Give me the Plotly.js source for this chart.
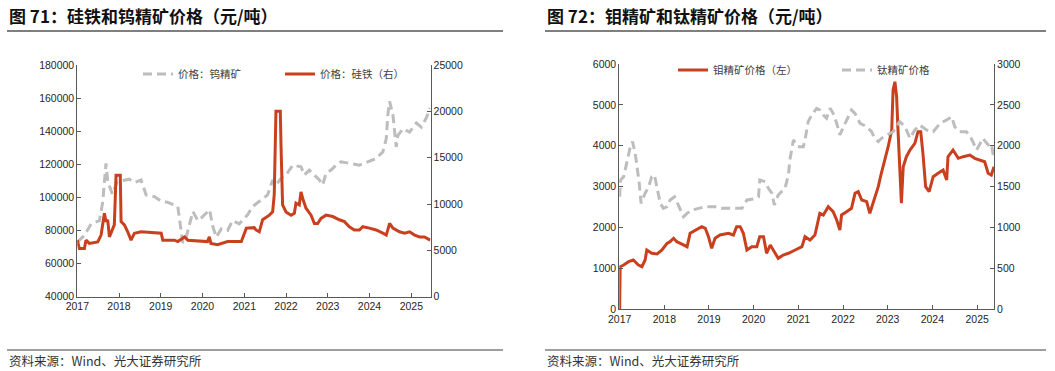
<!DOCTYPE html>
<html><head><meta charset="utf-8">
<script src="https://cdn.plot.ly/plotly-3.0.1.min.js"></script>
<style>html,body{margin:0;padding:0;background:#fff;}#chart{width:1055px;height:371px;}</style>
</head><body><div id="chart"></div>
<script>
// ---- Chart 71: 钨精矿 (left axis) & 硅铁 (right axis) ----
const tungstenDates = ['2017-01-01','2017-03-04','2017-05-01','2017-07-13','2017-08-11','2017-08-26','2017-09-09','2017-09-24','2017-11-03','2017-12-17',
'2018-01-30','2018-04-01','2018-05-16','2018-07-13','2018-08-26','2018-11-07','2018-12-28','2019-03-04','2019-05-30','2019-06-29',
'2019-07-13','2019-08-08','2019-10-09','2019-11-21','2019-12-20','2020-03-04','2020-03-29','2020-05-01','2020-06-14','2020-08-08',
'2020-09-20','2020-11-18','2021-01-30','2021-03-15','2021-05-12','2021-07-24','2021-09-06','2021-10-05','2021-11-18','2022-01-01',
'2022-03-01','2022-05-12','2022-06-10','2022-07-24','2022-09-06','2022-10-20','2022-11-18','2022-12-17','2023-01-30','2023-03-15',
'2023-04-27','2023-07-09','2023-10-05','2023-12-17','2024-02-28','2024-04-27','2024-05-27','2024-06-10','2024-06-25','2024-07-24',
'2024-08-08','2024-08-22','2024-09-06','2024-10-20','2024-12-17','2025-02-14','2025-03-29','2025-05-12','2025-06-15'];
const tungstenPrices = [73000,77000,84000,86000,97000,111000,120500,110000,102000,109500,
110000,111000,109000,110500,101500,100500,98000,97000,94500,81000,
72500,75000,91500,86000,87500,92500,83000,76000,81000,80000,
86000,84000,89500,94500,97500,101500,110500,107500,111500,113500,
119500,118500,113500,116500,113500,110500,107500,114500,116500,119500,
121500,120500,119500,121500,123500,127500,135500,150000,158000,150000,
139500,130500,137500,141500,139500,145000,142500,148000,154000];

const siliconDates = ['2017-01-01','2017-01-19','2017-03-04','2017-03-18','2017-04-16','2017-06-29','2017-07-28','2017-08-11','2017-08-26','2017-09-09',
'2017-09-24','2017-10-09','2017-11-07','2017-11-21','2017-12-06','2018-01-12','2018-01-19','2018-02-17','2018-03-18','2018-04-16',
'2018-05-16','2018-07-13','2019-01-05','2019-01-19','2019-05-01','2019-05-30','2019-07-28','2019-08-26','2020-02-14','2020-03-01',
'2020-03-15','2020-05-12','2020-08-08','2020-12-06','2021-01-19','2021-03-29','2021-04-13','2021-05-12','2021-06-10','2021-08-08',
'2021-09-06','2021-09-20','2021-10-05','2021-11-12','2021-11-18','2021-12-02','2022-01-01','2022-02-14','2022-03-15','2022-03-29',
'2022-04-27','2022-05-12','2022-05-27','2022-06-25','2022-08-08','2022-09-06','2022-10-05','2022-11-03','2022-12-17','2023-02-14',
'2023-04-13','2023-05-27','2023-07-09','2023-08-22','2023-10-05','2023-11-03','2024-01-01','2024-02-28','2024-04-27','2024-05-27',
'2024-06-25','2024-07-24','2024-09-20','2024-11-03','2024-12-17','2025-01-30','2025-03-15','2025-04-27','2025-06-15'];
const siliconPrices = [6100,5200,5200,6100,5750,5900,6650,7900,9000,8100,
8300,6450,7400,7750,13100,13100,8100,7750,7000,6100,
6850,7000,6850,6100,6100,5950,6450,6100,5950,6450,
5750,5600,5950,5950,7400,7450,7200,7000,8300,8800,
9150,11000,20000,20000,16400,9900,9150,8800,9000,10100,
9900,11300,10600,9550,8800,7900,7900,8450,8800,8650,
8300,8100,7550,7200,7200,7550,7400,7200,6850,6650,
7900,7400,7000,6850,7000,6650,6450,6450,6100];

// ---- Chart 72: 钼精矿 (left axis) & 钛精矿 (right axis) ----
const molyDates = ['2017-01-01','2017-01-05','2017-02-03','2017-03-15','2017-04-23','2017-06-03','2017-07-02','2017-07-28','2017-08-11','2017-09-20',
'2017-11-03','2017-12-13','2018-01-23','2018-02-17','2018-03-18','2018-04-13','2018-05-12','2018-06-07','2018-07-06','2018-07-31',
'2018-08-26','2018-09-24','2018-11-03','2018-12-02','2018-12-28','2019-01-23','2019-02-20','2019-04-01','2019-06-10','2019-07-20',
'2019-08-15','2019-09-13','2019-10-09','2019-11-07','2019-12-17','2020-01-27','2020-02-20','2020-03-22','2020-04-16','2020-05-16',
'2020-06-10','2020-07-20','2020-08-30','2020-10-12','2020-12-06','2021-01-30','2021-02-24','2021-04-06','2021-05-16','2021-05-30',
'2021-06-25','2021-07-24','2021-09-02','2021-10-12','2021-11-10','2021-12-06','2021-12-20','2022-01-30','2022-03-11','2022-04-09',
'2022-05-05','2022-06-03','2022-07-13','2022-08-08','2022-09-06','2022-10-16','2022-11-10','2022-12-09','2023-01-05','2023-02-03',
'2023-02-14','2023-03-01','2023-03-15','2023-03-25','2023-04-09','2023-04-23','2023-05-08','2023-06-03','2023-07-02','2023-08-11',
'2023-09-06','2023-09-28','2023-10-16','2023-11-07','2023-12-06','2024-01-08','2024-02-17','2024-03-29','2024-04-27','2024-05-08',
'2024-06-18','2024-07-31','2024-09-09','2024-11-03','2024-12-13','2025-01-23','2025-03-04','2025-04-01','2025-04-27','2025-05-19'];
const molyPrices = [0,1040,1084,1164,1206,1084,1042,1206,1450,1370,
1353,1450,1614,1654,1737,1654,1614,1573,1531,1859,
1898,1940,2020,1981,1776,1492,1737,1817,1859,1817,
2020,2020,1859,1450,1531,1531,1776,1776,1370,1573,
1450,1247,1328,1370,1450,1531,1776,1695,1817,1981,
2348,2307,2510,2388,2184,1940,2307,2388,2470,2837,
2877,2673,2632,2348,2632,2999,3327,3652,3977,4386,
5364,5567,5200,4467,3407,2593,3488,3733,3896,4060,
4344,4344,3816,2999,2877,3243,3327,3407,3163,3733,
3896,3693,3733,3774,3693,3652,3610,3327,3285,3488];

const titaniumDates = ['2017-01-01','2017-01-08','2017-02-03','2017-03-04','2017-03-29','2017-04-16','2017-05-08','2017-05-23','2017-06-10','2017-06-25',
'2017-07-28','2017-08-26','2017-09-20','2017-10-12','2017-11-03','2017-11-29','2017-12-24','2018-01-23','2018-02-17','2018-03-25',
'2018-04-13','2018-05-12','2018-06-07','2018-07-06','2018-08-15','2018-12-02','2019-02-20','2019-04-16','2019-07-06','2019-09-28',
'2019-11-07','2019-12-17','2020-02-10','2020-02-20','2020-04-05','2020-05-01','2020-05-30','2020-06-18','2020-07-20','2020-09-13',
'2020-10-12','2020-10-23','2020-11-21','2020-12-28','2021-02-10','2021-02-24','2021-03-22','2021-04-20','2021-05-30','2021-06-25',
'2021-07-24','2021-08-19','2021-09-17','2021-10-12','2021-11-10','2021-12-06','2022-01-05','2022-01-30','2022-03-11','2022-04-09',
'2022-05-20','2022-07-13','2022-08-22','2022-09-17','2022-10-16','2022-11-10','2022-12-24','2023-02-14','2023-04-09','2023-05-08',
'2023-06-03','2023-07-02','2023-08-11','2023-09-20','2023-11-14','2024-01-08','2024-03-04','2024-04-27','2024-06-07','2024-07-02',
'2024-08-11','2024-10-05','2024-11-14','2024-12-28','2025-02-17','2025-04-01','2025-04-27','2025-05-19'];
const titaniumPrices = [1377,1581,1622,1826,1989,2050,1908,1744,1541,1296,
1419,1499,1622,1643,1499,1296,1235,1255,1337,1377,
1316,1214,1133,1174,1214,1255,1255,1235,1235,1235,
1337,1345,1377,1581,1561,1480,1419,1276,1398,1480,
1643,1826,2071,1989,1989,2071,2295,2376,2458,2437,
2376,2336,2458,2397,2275,2132,2233,2315,2437,2397,
2275,2233,2172,2091,2050,2091,2132,2172,2295,2254,
2193,2091,2193,2254,2193,2172,2275,2315,2356,2233,
2172,2172,2091,1948,2091,2010,2030,1826];

const yearTicks = ['2017-01-01','2018-01-01','2019-01-01','2020-01-01','2021-01-01','2022-01-01','2023-01-01','2024-01-01','2025-01-01'];
const yearLabels = ['2017','2018','2019','2020','2021','2022','2023','2024','2025'];

const W = 1055, H = 371;
const px = v => v / W;
const py = v => 1 - v / H;

const RED = '#C9401F', GRAY = '#BDBDBD', AX = '#595959';
const numFont = {family: 'Liberation Sans, Arial, sans-serif', size: 10.5, color: '#262626'};
const cjk = 'Noto Sans CJK SC, sans-serif';

function xAx(domain, range, anchor) {
  return {type: 'date', domain, range, anchor, tickvals: yearTicks, ticktext: yearLabels,
    ticks: 'inside', ticklen: 4, tickcolor: AX, showline: true, linecolor: AX, linewidth: 1,
    showgrid: false, zeroline: false, tickfont: numFont, fixedrange: true};
}
function yAx(domain, range, dtick, anchor, extra) {
  return Object.assign({domain, range, dtick, anchor, tickformat: 'd',
    ticks: 'inside', ticklen: 4, tickcolor: AX, showline: true, linecolor: AX, linewidth: 1,
    showgrid: false, zeroline: false, tickfont: numFont, fixedrange: true}, extra || {});
}

const traces = [
  {x: tungstenDates, y: tungstenPrices, xaxis: 'x', yaxis: 'y', name: '价格：钨精矿', legend: 'legend', showlegend: true,
   mode: 'lines', line: {color: GRAY, width: 3, dash: '9px,5px'}},
  {x: siliconDates, y: siliconPrices, xaxis: 'x', yaxis: 'y2', name: '价格：硅铁（右）', legend: 'legend2', showlegend: true,
   mode: 'lines', line: {color: RED, width: 3}},
  {x: titaniumDates, y: titaniumPrices, xaxis: 'x3', yaxis: 'y4', name: '钛精矿价格', legend: 'legend4', showlegend: true,
   mode: 'lines', line: {color: GRAY, width: 3, dash: '9px,5px'}},
  {x: molyDates, y: molyPrices, xaxis: 'x3', yaxis: 'y3', name: '钼精矿价格（左）', legend: 'legend3', showlegend: true,
   mode: 'lines', line: {color: RED, width: 3}}
];

const legFont = {family: cjk, size: 10.5, color: '#404040'};
function leg(x, y) {
  return {x: px(x), y: py(y), xanchor: 'left', yanchor: 'middle', orientation: 'h', visible: true,
    bgcolor: 'rgba(0,0,0,0)', borderwidth: 0, font: legFont, itemclick: false, itemdoubleclick: false};
}

const layout = {
  width: W, height: H, margin: {l: 0, r: 0, t: 0, b: 0}, showlegend: true,
  paper_bgcolor: '#fff', plot_bgcolor: 'rgba(0,0,0,0)', hovermode: false,
  xaxis: xAx([px(77.3), px(430.5)], ['2017-01-01', '2025-06-18'], 'y'),
  yaxis: yAx([1 - 296.7 / H, 1 - 65 / H], [40000, 180000], 20000, 'x'),
  yaxis2: yAx([1 - 296.7 / H, 1 - 65 / H], [0, 25000], 5000, 'x', {overlaying: 'y', side: 'right'}),
  xaxis3: xAx([px(619.3), px(994)], ['2016-12-29', '2025-05-19'], 'y3'),
  yaxis3: yAx([1 - 309.3 / H, 1 - 64 / H], [0, 6000], 1000, 'x3'),
  yaxis4: yAx([1 - 309.3 / H, 1 - 64 / H], [0, 3000], 500, 'x3', {overlaying: 'y3', side: 'right'}),
  legend: leg(138, 74),
  legend2: leg(280, 74),
  legend3: leg(673, 70),
  legend4: leg(837, 70),
  annotations: [
    {text: '<b>图 71：硅铁和钨精矿价格（元/吨）</b>', x: px(7), y: py(16), xref: 'paper', yref: 'paper',
     xanchor: 'left', yanchor: 'middle', showarrow: false, font: {family: cjk, size: 17, color: '#111'}},
    {text: '<b>图 72：钼精矿和钛精矿价格（元/吨）</b>', x: px(545), y: py(16), xref: 'paper', yref: 'paper',
     xanchor: 'left', yanchor: 'middle', showarrow: false, font: {family: cjk, size: 17, color: '#111'}},
    {text: '资料来源：Wind、光大证券研究所', x: px(7), y: py(360), xref: 'paper', yref: 'paper',
     xanchor: 'left', yanchor: 'middle', showarrow: false, font: {family: cjk, size: 12.5, color: '#333'}},
    {text: '资料来源：Wind、光大证券研究所', x: px(545), y: py(360), xref: 'paper', yref: 'paper',
     xanchor: 'left', yanchor: 'middle', showarrow: false, font: {family: cjk, size: 12.5, color: '#333'}}
  ],
  shapes: [
    {type: 'line', xref: 'paper', yref: 'paper', x0: px(7), x1: px(503), y0: py(31), y1: py(31), line: {color: '#000', width: 1.2}},
    {type: 'line', xref: 'paper', yref: 'paper', x0: px(545), x1: px(1046), y0: py(31), y1: py(31), line: {color: '#000', width: 1.2}},
    {type: 'line', xref: 'paper', yref: 'paper', x0: px(7), x1: px(503), y0: py(350), y1: py(350), line: {color: '#7f7f7f', width: 1.5}},
    {type: 'line', xref: 'paper', yref: 'paper', x0: px(545), x1: px(1046), y0: py(350), y1: py(350), line: {color: '#7f7f7f', width: 1.5}}
  ]
};

Plotly.newPlot('chart', traces, layout, {staticPlot: true, displayModeBar: false});
</script>
</body></html>
